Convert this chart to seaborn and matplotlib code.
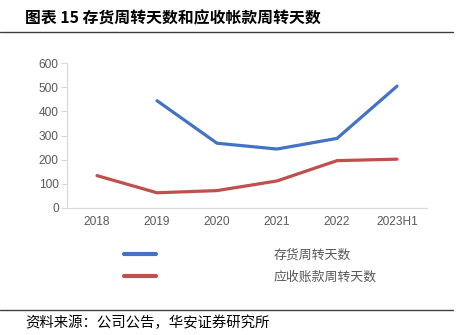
import matplotlib
matplotlib.use("Agg")
import matplotlib.pyplot as plt
import seaborn as sns
import pandas as pd
from matplotlib.lines import Line2D

years = ["2018", "2019", "2020", "2021", "2022", "2023H1"]
inventory_days = [None, 444, 268, 244, 288, 504]
receivable_days = [134, 63, 72, 112, 196, 202]
series_names = ["存货周转天数", "应收账款周转天数"]
colors = ["#4472C4", "#C0504D"]
yticks = [0, 100, 200, 300, 400, 500, 600]

sns.set_theme(style="white")
plt.rcParams['font.family'] = ['Noto Sans CJK SC', 'DejaVu Sans']

df = pd.DataFrame({
    "year": years * 2,
    "value": inventory_days + receivable_days,
    "series": [series_names[0]] * 6 + [series_names[1]] * 6,
})
df["x"] = list(range(6)) * 2
df = df.dropna()

fig = plt.figure(figsize=(4.66, 3.35), dpi=100)
ax = fig.add_axes([67/466, 1 - 208/335, 360/466, 145/335])

sns.lineplot(data=df, x="x", y="value", hue="series", palette=colors,
             hue_order=series_names, linewidth=2.3, ax=ax, legend=False,
             sort=False)

ax.set_xlim(-0.5, 5.5)
ax.set_ylim(0, 600)
ax.set_yticks(yticks)
ax.set_yticklabels([str(v) for v in yticks], fontfamily="Liberation Sans",
                   fontsize=8.6, color="#595959")
ax.set_xticks(range(6))
ax.set_xticklabels(years, fontfamily="Liberation Sans", fontsize=8.6, color="#595959")
ax.tick_params(axis="x", length=0, pad=6)
ax.set_xticks([i - 0.5 for i in range(7)], minor=True)
ax.tick_params(axis="x", which="minor", length=4, color="#D9D9D9", width=0.8, direction="out")
ax.tick_params(axis="y", length=4, color="#D9D9D9", width=0.8, pad=2, left=True)
ax.set_xlabel("")
ax.set_ylabel("")
for s in ["top", "right"]:
    ax.spines[s].set_visible(False)
for s in ["left", "bottom"]:
    ax.spines[s].set_color("#D9D9D9")
    ax.spines[s].set_linewidth(0.9)

handles = [Line2D([0], [0], color=c, lw=3, solid_capstyle="round") for c in colors]
leg = fig.legend(handles, series_names, loc="upper left",
                 bbox_to_anchor=(112/466, 1 - 237/335), frameon=False,
                 fontsize=9.3, handlelength=2.5, handletextpad=9.1,
                 labelspacing=0.72, labelcolor="#595959")

fig.text(25/466, 1 - 18/335, "图表 15 存货周转天数和应收帐款周转天数",
         fontsize=11.4, fontweight="bold", color="black", va="center")
fig.add_artist(Line2D([0, 453/466], [1 - 32/335, 1 - 32/335], color="#404040", lw=1))
fig.add_artist(Line2D([0, 453/466], [1 - 310/335, 1 - 310/335], color="#404040", lw=1))
fig.text(25/466, 1 - 323/335, "资料来源：公司公告，华安证券研究所",
         fontsize=10.4, color="black", va="center")

fig.savefig("out.png", dpi=100)
